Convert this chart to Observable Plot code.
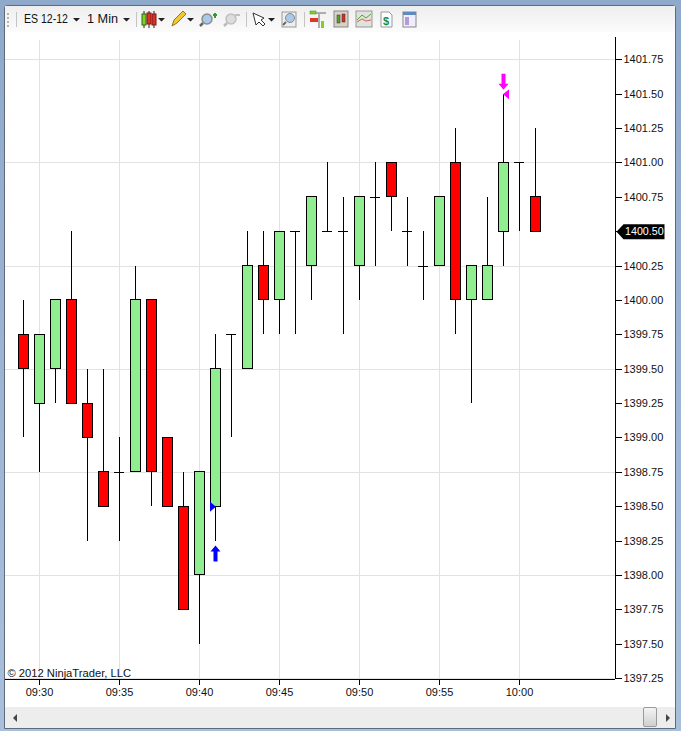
<!DOCTYPE html>
<html>
<head>
<meta charset="utf-8">
<script src="https://cdn.jsdelivr.net/npm/d3@7"></script>
<script src="https://cdn.jsdelivr.net/npm/@observablehq/plot@0.6"></script>
<style>
html,body{margin:0;padding:0;background:#fff;width:681px;height:731px;overflow:hidden;font-family:"Liberation Sans",Arial,sans-serif}
#win{position:absolute;left:0;top:0;width:681px;height:731px;background:linear-gradient(#8fa9cb,#a9c0dc)}
#pane{position:absolute;left:4px;top:5px;width:672px;height:724px;background:#fff;border:1px solid #5d6b7c;border-radius:3px 3px 0 0;box-sizing:border-box}
#tools{position:absolute;left:5px;top:6px;width:670px;height:26px}
#scroll{position:absolute;left:5px;top:707px;width:670px;height:21px;background:#ededed}
#thumb{position:absolute;left:638px;top:0;width:14px;height:20px;background:linear-gradient(#f4f4f4,#cfcfcf);border:1px solid #9a9a9a;border-radius:2px;box-sizing:border-box}
#chart{position:absolute;left:0;top:0}
</style>
</head>
<body>
<div id="win"><div id="pane"></div>
<svg id="tools" viewBox="5 6 670 26" width="670" height="26">
  <defs><linearGradient id="tb" x1="0" y1="0" x2="0" y2="1"><stop offset="0" stop-color="#eeeeee"/><stop offset="1" stop-color="#fbfbfb"/></linearGradient></defs>
  <rect x="5" y="6" width="670" height="26" fill="url(#tb)"/>
  <g fill="#b5b5b5"><rect x="7" y="13" width="2" height="2"/><rect x="7" y="17" width="2" height="2"/><rect x="7" y="21" width="2" height="2"/><rect x="7" y="25" width="2" height="2"/></g>
  <g stroke="#c4c4c4"><path d="M16.5 12V27M136.5 12V27M246.5 12V27M304.5 12V27"/></g>
  <g font-family="Liberation Sans" font-size="12" fill="#111"><text x="24" y="23" textLength="44" lengthAdjust="spacingAndGlyphs">ES 12-12</text><text x="87" y="23" textLength="31" lengthAdjust="spacingAndGlyphs">1 Min</text></g>
  <g fill="#222"><path d="M73 18h7l-3.500 3.500zM123 18h7l-3.500 3.500zM158 18h7l-3.500 3.500zM187 18h7l-3.500 3.500zM268 18h7l-3.500 3.500z"/></g>
  <g stroke="#222"><path d="M144 11V28M149 11V28M154 11V28"/></g>
  <rect x="142" y="14" width="4" height="11" fill="#7ed321" stroke="#2c6a12"/><rect x="147" y="13" width="4" height="11" fill="#e0342a" stroke="#7a1a14"/><rect x="152" y="14" width="4" height="11" fill="#d9302a" stroke="#7a1a14"/>
  <path d="M172 26l2-6 9-9 3 3-9 9z" fill="#f2c832" stroke="#9a7a18"/>
  <circle cx="207" cy="19" r="5" fill="#a9c8ea" stroke="#8c8c8c" stroke-width="1.500"/><path d="M203 23l-3 3" stroke="#666" stroke-width="2.500"/><path d="M213 15h4M215 13v5" stroke="#2aa02a" stroke-width="2"/>
  <circle cx="231" cy="19" r="5" fill="#dcdcdc" stroke="#c0c0c0" stroke-width="1.500"/><path d="M227 23l-3 3" stroke="#bbb" stroke-width="2.500"/><path d="M235 15h5" stroke="#c0c0c0" stroke-width="2"/>
  <path d="M253 13l3 12 3-3 4 4 2-2-4-4 3-2z" fill="#fff" stroke="#333"/>
  <rect x="282" y="12" width="14" height="15" fill="#eee" stroke="#999"/><circle cx="290" cy="18" r="4.500" fill="#a9c8ea" stroke="#888"/><path d="M286 22l-3 3" stroke="#666" stroke-width="2"/>
  <rect x="310" y="11" width="6" height="3" fill="#7ed321" stroke="#4a8a1a" stroke-width=".5"/><rect x="310" y="18" width="8" height="4" fill="#e0342a"/><rect x="321" y="21" width="3" height="7" fill="#7ed321"/><path d="M316 13H326M319 14V28" stroke="#666"/>
  <rect x="334" y="11" width="14" height="16" fill="#d8d2c4" stroke="#888"/><rect x="337" y="15" width="3" height="8" fill="#5aa02c" stroke="#333" stroke-width=".5"/><rect x="342" y="14" width="3" height="8" fill="#d0302a" stroke="#333" stroke-width=".5"/>
  <rect x="356" y="11" width="16" height="16" fill="#dfe3dc" stroke="#999"/><path d="M357 20l5-5 4 3 5-4" stroke="#5aa02c" fill="none"/><path d="M357 22l5-3 4 2 5-1" stroke="#d0606a" fill="none"/>
  <path d="M381 12h8l3 3v12h-11z" fill="#fff" stroke="#999"/><text x="383" y="25" font-family="Liberation Sans" font-size="11" font-weight="bold" fill="#1f8a3a">$</text>
  <rect x="403" y="12" width="13" height="15" fill="#eef" stroke="#888"/><rect x="403" y="12" width="13" height="3" fill="#5f8ac0"/><rect x="405" y="17" width="4" height="8" fill="#b49ad8"/>
</svg>
<div id="scroll">
  <svg width="20" height="21" style="position:absolute;left:5px;top:0"><path d="M3 11l4-4v8z" fill="#444"/></svg>
  <div id="thumb"></div>
  <svg width="12" height="21" style="position:absolute;left:657px;top:0"><path d="M8 11l-4-4v8z" fill="#444"/></svg>
</div>
</div>
<div id="chart"></div>
<script>
const times  = ["09:29","09:30","09:31","09:32","09:33","09:34","09:35","09:36","09:37","09:38","09:39","09:40","09:41","09:42","09:43","09:44","09:45","09:46","09:47","09:48","09:49","09:50","09:51","09:52","09:53","09:54","09:55","09:56","09:57","09:58","09:59","10:00","10:01"];
const opens  = [1399.75,1399.25,1399.5,1400,1399.25,1398.75,1398.75,1398.75,1400,1399,1398.5,1398,1398.5,1399.75,1399.5,1400.25,1400,1400.5,1400.25,1400.5,1400.5,1400.25,1400.75,1401,1400.5,1400.25,1400.25,1401,1400,1400,1400.5,1401,1400.75];
const highs  = [1400,1399.75,1400,1400.5,1399.5,1399.5,1399,1400.25,1400,1399,1398.75,1398.75,1399.75,1399.75,1400.5,1400.5,1400.5,1400.5,1400.75,1401,1400.75,1400.75,1401,1401,1400.75,1400.5,1400.75,1401.25,1400.25,1400.75,1401.5,1401,1401.25];
const lows   = [1399,1398.75,1399.25,1399.25,1398.25,1398.5,1398.25,1398.75,1398.5,1398.5,1397.75,1397.5,1398.25,1399,1399.5,1399.75,1399.75,1399.75,1400,1400.5,1399.75,1400,1400.25,1400.5,1400.25,1400,1400.25,1399.75,1399.25,1400,1400.25,1400.5,1400.5];
const closes = [1399.5,1399.75,1400,1399.25,1399,1398.5,1398.75,1400,1398.75,1398.5,1397.75,1398.75,1399.5,1399.75,1400.25,1400,1400.5,1400.5,1400.75,1400.5,1400.5,1400.75,1400.75,1400.75,1400.5,1400.25,1400.75,1400,1400.25,1400.25,1401,1401,1400.5];

const priceTicks = [1397.25,1397.5,1397.75,1398,1398.25,1398.5,1398.75,1399,1399.25,1399.5,1399.75,1400,1400.25,1400.5,1400.75,1401,1401.25,1401.5,1401.75];
const gridPrices = [1397.25,1398,1398.75,1399.5,1400.25,1401,1401.75];
const timeTicks  = ["09:30","09:35","09:40","09:45","09:50","09:55","10:00"];
const buySignal  = {time:"09:41", arrow:1398.16, entry:1398.5};
const sellSignal = {time:"09:59", arrow:1401.59, entry:1401.5};
const lastPrice  = 1400.5;
const copyright  = "© 2012 NinjaTrader, LLC";

const T = s => { const [h,m] = s.split(":").map(Number); return new Date(Date.UTC(2012,8,20,h,m)); };
const shift = (d,sec) => new Date(+d + sec*1000);
const bars = times.map((t,i)=>({t:T(t),open:opens[i],high:highs[i],low:lows[i],close:closes[i]}));
const bodies = bars.filter(b=>b.open!==b.close);
const dojis  = bars.filter(b=>b.open===b.close);
const xDomain = [shift(T("09:28"),-7.5), T("10:06")];
const yDomain = [1397.2427,1401.912];
const font = "Liberation Sans, Arial, sans-serif";
const crisp = "crispEdges";

const poly = pts => ({draw(c){ pts.forEach((p,i)=> i? c.lineTo(p[0],p[1]) : c.moveTo(p[0],p[1])); c.closePath(); }});
const arrowUp   = poly([[0,-8],[5,-2],[2,-2],[2,8],[-2,8],[-2,-2],[-5,-2]]);
const arrowDown = poly([[0,8],[5,2],[2,2],[2,-8],[-2,-8],[-2,2],[-5,2]]);
const triRight  = poly([[-3,-5],[3,0],[-3,5]]);
const triLeft   = poly([[3,-5],[-3,0],[3,5]]);
const flag      = poly([[1,0],[8,-7.500],[49,-7.500],[49,7.500],[8,7.500]]);
const xEnd = xDomain[1];

const chart = Plot.plot({
  width:681, height:731,
  marginLeft:5, marginRight:66, marginTop:37, marginBottom:52,
  style:{background:"transparent", fontFamily:font, overflow:"visible"},
  x:{type:"utc", domain:xDomain},
  y:{domain:yDomain},
  marks:[
    Plot.ruleX(timeTicks.map(T),{x:d=>d, y1:1397.2427, y2:1401.89, stroke:"#e2e2e2", shapeRendering:crisp}),
    Plot.ruleY(gridPrices,{y:d=>d, stroke:"#e2e2e2", shapeRendering:crisp}),
    Plot.ruleX(bars,{x:"t", y1:"low", y2:"high", stroke:"#000", shapeRendering:crisp}),
    Plot.rect(bodies,{
      x1:d=>shift(d.t,-18.75), x2:d=>shift(d.t,18.75),
      y1:"open", y2:"close",
      fill:d=>d.close>d.open?"#90ee90":"#ff0000", stroke:"#000", strokeWidth:1, shapeRendering:crisp
    }),
    Plot.ruleY(dojis,{y:"close", x1:d=>shift(d.t,-20.6), x2:d=>shift(d.t,20.6), stroke:"#000", shapeRendering:crisp}),
    Plot.dot([buySignal],{x:d=>T(d.time), y:"arrow", symbol:arrowUp, fill:"#0000ff", stroke:"none"}),
    Plot.dot([sellSignal],{x:d=>T(d.time), y:"arrow", symbol:arrowDown, fill:"#ff00ff", stroke:"none"}),
    Plot.dot([buySignal],{x:d=>T(d.time), y:"entry", symbol:triRight, dx:-2.5, fill:"#0000ff", stroke:"none"}),
    Plot.dot([sellSignal],{x:d=>T(d.time), y:"entry", symbol:triLeft, dx:2.5, fill:"#ff00ff", stroke:"none"}),
    Plot.text([copyright],{text:d=>d, frameAnchor:"bottom-left", dx:2, dy:-1, fontSize:11.2, fill:"#111", textAnchor:"start", fontFamily:font, dy:-3}),
    Plot.ruleX([xEnd],{x:d=>d, stroke:"#000", shapeRendering:crisp}),
    Plot.ruleY([yDomain[0]],{y:d=>d, stroke:"#000", shapeRendering:crisp}),
    Plot.axisY({anchor:"right", ticks:priceTicks, tickFormat:d3.format(".2f"), tickSize:6, tickPadding:2, label:null, fontSize:11, fill:"#111", stroke:"#000", shapeRendering:crisp}),
    Plot.axisX({anchor:"bottom", ticks:timeTicks.map(T), tickFormat:d3.utcFormat("%H:%M"), tickSize:6, tickPadding:3, label:null, fontSize:11, fill:"#111", stroke:"#000", shapeRendering:crisp}),
    Plot.dot([lastPrice],{x:()=>xEnd, y:d=>d, symbol:flag, fill:"#000", stroke:"none"}),
    Plot.text([lastPrice],{x:()=>xEnd, y:d=>d, text:d=>d3.format(".2f")(d), dx:9.5, textAnchor:"start", fontSize:10.7, fill:"#fff", fontFamily:font})
  ]
});
document.getElementById("chart").appendChild(chart);
</script>
</body>
</html>
